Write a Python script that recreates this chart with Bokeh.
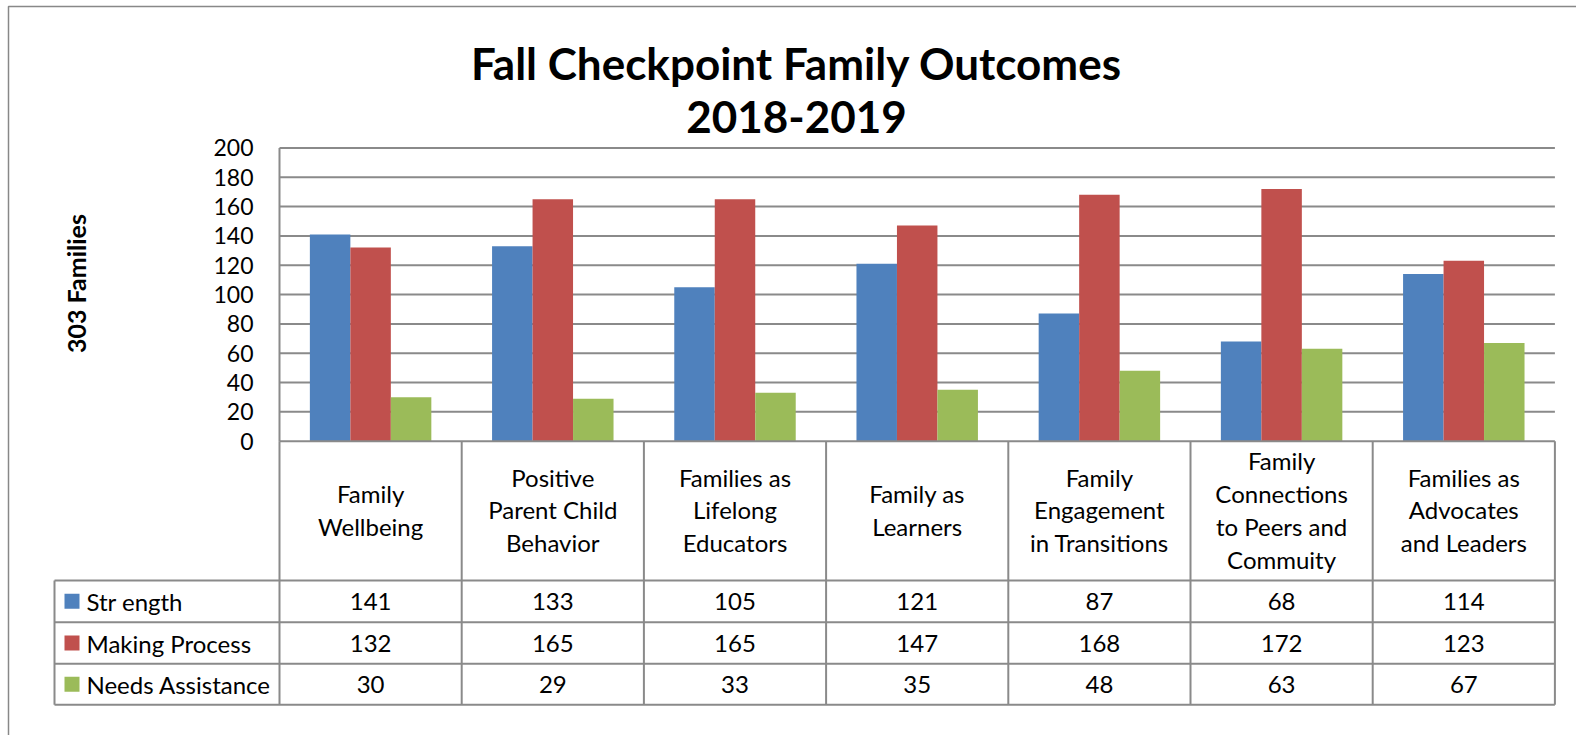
import math
from bokeh.plotting import figure
from bokeh.models import Range1d, FixedTicker
from bokeh.core.properties import value
from bokeh.embed import file_html
from bokeh.resources import INLINE

# ---------------- data ----------------
title_lines = ["Fall Checkpoint Family Outcomes", "2018-2019"]
y_axis_title = "303 Families"
categories = [
    "Family\nWellbeing",
    "Positive\nParent Child\nBehavior",
    "Families as\nLifelong\nEducators",
    "Family as\nLearners",
    "Family\nEngagement\nin Transitions",
    "Family\nConnections\nto Peers and\nCommuity",
    "Families as\nAdvocates\nand Leaders",
]
series_names = ["Str ength", "Making Process", "Needs Assistance"]
strength = [141, 133, 105, 121, 87, 68, 114]
making_process = [132, 165, 165, 147, 168, 172, 123]
needs_assistance = [30, 29, 33, 35, 48, 63, 67]
y_ticks = [0, 20, 40, 60, 80, 100, 120, 140, 160, 180, 200]
series_colors = ["#4F81BD", "#C0504D", "#9BBB59"]

# ---------------- layout constants (pixels) ----------------
W, H = 1576, 735
CAT_PX = 182.2        # width of one category column
PLOT_LEFT_PX = 279    # left edge of plot area
ZERO_PX = 440.7       # y pixel of value 0
UNIT_PX = 1.4665      # pixels per value unit
FONT = "Lato"
GRID_COLOR = "#8a8a8a"
TABLE_FONT_SIZE = "24px"


def dx(px):
    return -0.5 + (px - PLOT_LEFT_PX) / CAT_PX


def dy(py):
    return (ZERO_PX - py) / UNIT_PX


n = len(categories)
idx = list(range(n))
series = [strength, making_process, needs_assistance]

p = figure(
    width=W, height=H, output_backend="svg", toolbar_location=None,
    x_range=Range1d(dx(0), dx(W)), y_range=Range1d(dy(H), dy(0)),
    min_border=0, outline_line_color=None,
)
p.xaxis.visible = False
p.xgrid.visible = False
p.ygrid.visible = False

# y axis (tick labels) fixed at the plot's left edge
ax = p.yaxis[0]
ax.fixed_location = -0.5
ax.bounds = (0, 200)
ax.ticker = FixedTicker(ticks=y_ticks)
ax.axis_line_color = None
ax.major_tick_line_color = None
ax.minor_tick_line_color = None
ax.major_tick_out = 0
ax.major_tick_in = 0
ax.major_label_standoff = 26
ax.major_label_text_font = FONT
ax.major_label_text_font_size = "23px"
ax.major_label_text_color = "black"

# outer chart border
p.line(x=[dx(8), dx(8), dx(W + 10)], y=[dy(H + 10), dy(6), dy(6)],
       line_color="#888888", line_width=1.5)

# gridlines
p.segment(x0=[-0.5] * (len(y_ticks) - 1), x1=[n - 0.5] * (len(y_ticks) - 1),
          y0=y_ticks[1:], y1=y_ticks[1:], line_color=GRID_COLOR, line_width=2)
# plot area left line
p.segment(x0=[-0.5], x1=[-0.5], y0=[0], y1=[200], line_color=GRID_COLOR, line_width=2)

# bars
bw = 1 / 4.5
for s, (vals, col) in enumerate(zip(series, series_colors)):
    off = (s - 1) * bw
    p.vbar(x=[i + off for i in idx], top=vals, bottom=0, width=bw,
           fill_color=col, line_color=None)

# data table
header_bottom = dy(580)
row_bottoms = [dy(621.7), dy(663.3), dy(704.3)]
row_tops = [header_bottom] + row_bottoms[:-1]
legend_left = dx(54)
table_bottom = row_bottoms[-1]

hx0 = [-0.5] + [legend_left] * 4
hx1 = [n - 0.5] * 5
hy = [0, header_bottom] + row_bottoms
p.segment(x0=hx0, x1=hx1, y0=hy, y1=hy, line_color=GRID_COLOR, line_width=2)
vx = [k - 0.5 for k in range(n + 1)] + [legend_left]
vy0 = [0] * (n + 1) + [header_bottom]
p.segment(x0=vx, x1=vx, y0=vy0, y1=[table_bottom] * (n + 2),
          line_color=GRID_COLOR, line_width=2)

# category header labels
p.text(x=idx, y=[dy(509.5)] * n, text=categories, text_align="center",
       text_baseline="middle", text_font=value(FONT), text_font_size=TABLE_FONT_SIZE,
       text_line_height=1.13, text_color="black")

# values and legend cells
for s, vals in enumerate(series):
    yc = (row_tops[s] + row_bottoms[s]) / 2
    p.text(x=idx, y=[yc] * n, text=[str(v) for v in vals], text_align="center",
           text_baseline="middle", text_font=value(FONT), text_font_size=TABLE_FONT_SIZE,
           text_color="black")
    p.scatter(x=[dx(71.5)], y=[yc], marker="square", size=15,
              fill_color=series_colors[s], line_color=None)
    p.text(x=[dx(86)], y=[yc], text=[series_names[s]], text_align="left",
           text_baseline="middle", text_font=value(FONT), text_font_size=TABLE_FONT_SIZE,
           text_color="black")

# title
p.text(x=[dx(796)] * 2, y=[dy(62), dy(116)], text=title_lines, text_align="center",
       text_baseline="middle", text_font=value(FONT), text_font_size="44px",
       text_font_style="bold", text_color="black")

# y axis title
p.text(x=[dx(75)], y=[dy(283)], text=[y_axis_title], angle=math.pi / 2,
       text_align="center", text_baseline="middle", text_font=value(FONT),
       text_font_size="25px", text_font_style="bold", text_color="black")

open("out.html", "w").write(file_html(p, INLINE))
